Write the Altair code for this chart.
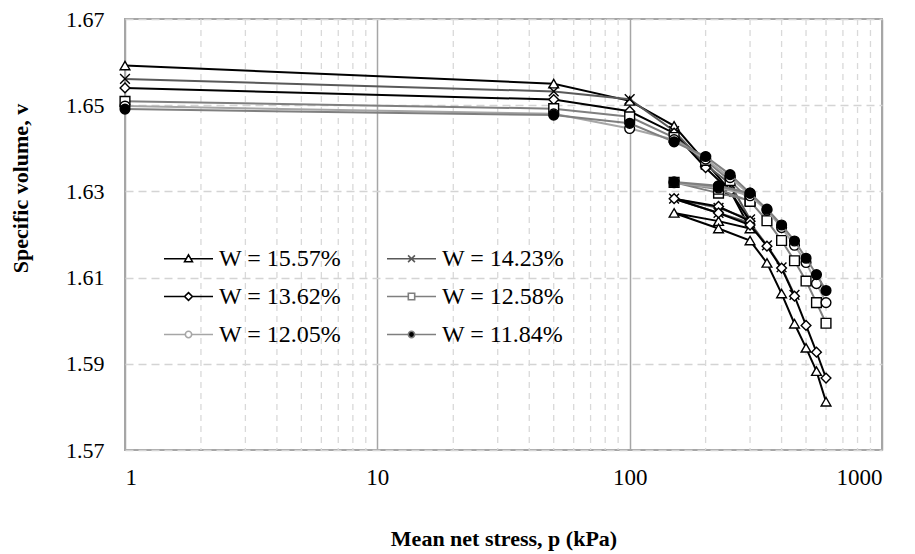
import altair as alt
import pandas as pd

# ---------------- data ----------------
series_names = ["W = 15.57%", "W = 14.23%", "W = 13.62%", "W = 12.58%", "W = 12.05%", "W = 11.84%"]

# loading 1 -> 300, unloading 300 -> 150, reloading 150 -> 600 (kPa)
stress_path = [1, 50, 100, 150, 200, 250, 300, 225, 150, 225, 300, 350, 400, 450, 500, 550, 600]

v_1557 = [1.6592, 1.6550, 1.6510, 1.6452, 1.6368, 1.6302, 1.6214, 1.6231, 1.6250, 1.6214, 1.6186,
          1.6134, 1.6063, 1.5993, 1.5937, 1.5883, 1.5812]
v_1423 = [1.6561, 1.6532, 1.6514, 1.6440, 1.6362, 1.6318, 1.6235, 1.6262, 1.6283, 1.6250, 1.6227,
          1.6175, 1.6124, 1.6060]
v_1362 = [1.6540, 1.6513, 1.6486, 1.6435, 1.6355, 1.6300, 1.6231, 1.6265, 1.6283, 1.6250, 1.6222,
          1.6173, 1.6122, 1.6057, 1.5989, 1.5927, 1.5867]
v_1258 = [1.6509, 1.6492, 1.6473, 1.6425, 1.6372, 1.6325, 1.6279, 1.6296, 1.6321, 1.6305, 1.6277,
          1.6232, 1.6186, 1.6139, 1.6092, 1.6042, 1.5994]
v_1205 = [1.6498, 1.6480, 1.6446, 1.6420, 1.6375, 1.6332, 1.6292, 1.6308, 1.6320, 1.6310, 1.6290,
          1.6256, 1.6216, 1.6175, 1.6135, 1.6086, 1.6042]
v_1184 = [1.6491, 1.6477, 1.6458, 1.6415, 1.6381, 1.6339, 1.6296, 1.6312, 1.6322, 1.6313, 1.6296,
          1.6259, 1.6222, 1.6185, 1.6145, 1.6107, 1.6070]

series_values = [v_1557, v_1423, v_1362, v_1258, v_1205, v_1184]

x_ticks = [1, 10, 100, 1000]
y_ticks = [1.57, 1.59, 1.61, 1.63, 1.65, 1.67]
minor_ticks = [2, 3, 4, 5, 6, 7, 8, 9, 20, 30, 40, 50, 60, 70, 80, 90,
               200, 300, 400, 500, 600, 700, 800, 900]

# ---------------- styles ----------------
line_colors = ["#000000", "#595959", "#000000", "#7f7f7f", "#a6a6a6", "#7f7f7f"]
marker_fills = ["white", "white", "white", "white", "white", "black"]
marker_shapes = ["triangle-up", "M-1,-1L1,1M1,-1L-1,1", "diamond", "square", "circle", "circle"]
legend_paths = [
    "M-1,0H-0.1M0.1,0H1M0,-0.16L0.16,0.12L-0.16,0.12Z",
    "M-1,0H1M-0.14,-0.14L0.14,0.14M0.14,-0.14L-0.14,0.14",
    "M-1,0H-0.16M0.16,0H1M0,-0.16L0.16,0L0,0.16L-0.16,0Z",
    "M-1,0H-0.13M0.13,0H1M-0.13,-0.13H0.13V0.13H-0.13Z",
    "M-1,0H-0.13M0.13,0H1M-0.13,0A0.13,0.13 0 1,0 0.13,0A0.13,0.13 0 1,0 -0.13,0Z",
    "M-1,0H-0.13M0.13,0H1M-0.13,0A0.13,0.13 0 1,0 0.13,0A0.13,0.13 0 1,0 -0.13,0Z",
]

FONT = "Liberation Serif"

rows = []
for name, vals in zip(series_names, series_values):
    for i, v in enumerate(vals):
        rows.append({"series": name, "step": i, "p": stress_path[i], "v": v})
df = pd.DataFrame(rows)
grid_df = pd.DataFrame({"p": minor_ticks})

x_enc = alt.X(
    "p:Q",
    scale=alt.Scale(type="log", domain=[1, 1000]),
    axis=alt.Axis(
        values=x_ticks, format="d", grid=True, gridColor="#a6a6a6", gridWidth=1.5,
        ticks=False, domain=False, labelFont=FONT, labelFontSize=23, labelColor="black",
        labelPadding=16, title="Mean net stress, p (kPa)", titleFont=FONT,
        titleFontSize=22, titleFontWeight="bold", titleColor="black",
        titleY=88, titleBaseline="middle",
    ),
)
y_enc = alt.Y(
    "v:Q",
    scale=alt.Scale(domain=[1.57, 1.67], zero=False, nice=False),
    axis=alt.Axis(
        values=y_ticks, format=".2f", grid=True, gridColor="#d4d4d4", gridWidth=1.5,
        gridDash=[8, 5], ticks=False, domain=False, labelFont=FONT, labelFontSize=22,
        labelColor="black", labelPadding=21, title="Specific volume, v", titleFont=FONT,
        titleFontSize=22, titleFontWeight="bold", titleColor="black",
        titleX=-105, titleY=169, titleBaseline="middle", titleAngle=270,
    ),
)

layers = []
layers.append(
    alt.Chart(grid_df).mark_rule(color="#d9d9d9", strokeWidth=1.3, strokeDash=[6, 5]).encode(x=x_enc)
)

for name, lc, shp, fc in zip(series_names, line_colors, marker_shapes, marker_fills):
    base = alt.Chart(df).transform_filter(alt.datum.series == name)
    layers.append(
        base.mark_line(color=lc, strokeWidth=2).encode(x=x_enc, y=y_enc, order="step:Q")
    )
    layers.append(
        base.mark_point(shape=shp, filled=True, fill=fc, stroke="black", strokeWidth=1.4,
                        size=95, opacity=1).encode(x=x_enc, y=y_enc)
    )

legend = alt.Legend(
    title=None, orient="none", legendX=38, legendY=214, columns=2, direction="horizontal",
    columnPadding=41, rowPadding=-1, labelFont=FONT, labelFontSize=24, labelColor="black",
    labelOffset=5, labelLimit=0, symbolSize=2401, symbolStrokeWidth=1.6, padding=0,
)
legend_layer = (
    alt.Chart(df)
    .transform_filter("datum.p < 0")
    .mark_point(filled=True, opacity=1)
    .encode(
        shape=alt.Shape("series:N", scale=alt.Scale(domain=series_names, range=legend_paths), legend=legend),
        stroke=alt.Stroke("series:N", scale=alt.Scale(domain=series_names, range=line_colors), legend=legend),
        fill=alt.Fill("series:N", scale=alt.Scale(domain=series_names, range=marker_fills), legend=legend),
    )
)
layers.append(legend_layer)

chart = (
    alt.layer(*layers)
    .properties(
        width=757, height=431, autosize="none",
        padding={"left": 117, "top": 11, "right": 25, "bottom": 104},
    )
    .configure(font=FONT, style={"guide-label": {"font": FONT, "fill": "black"},
                                 "guide-title": {"font": FONT, "fill": "black"}})
    .configure_view(stroke="#a6a6a6", strokeWidth=2)
    .configure_legend(labelFont=FONT, labelFontSize=24, labelColor="black")
)

chart.save("out.html", embed_options={"renderer": "svg", "actions": False})
